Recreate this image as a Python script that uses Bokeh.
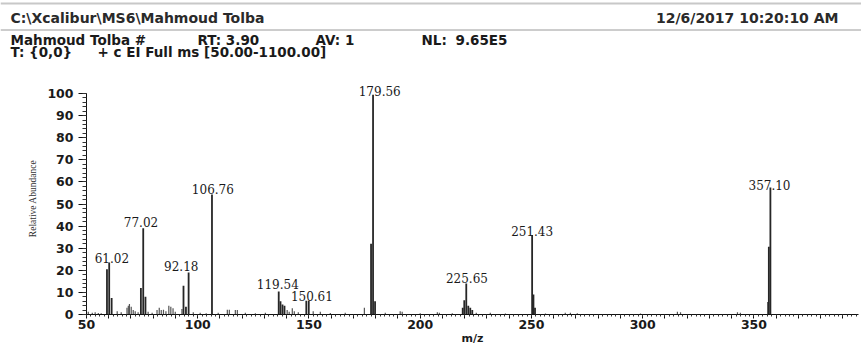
from bokeh.plotting import figure
from bokeh.layouts import column
from bokeh.models import FixedTicker, ColumnDataSource, Range1d, Span
from bokeh.embed import file_html
from bokeh.resources import INLINE
from bokeh.core.properties import value

# ---- header texts ----
header_path = "C:\\Xcalibur\\MS6\\Mahmoud Tolba"
header_date = "12/6/2017 10:20:10 AM"
row2_parts = ["Mahmoud Tolba #", "RT: 3.90", "AV: 1", "NL:", "9.65E5"]
row3_parts = ["T: {0,0}", "+ c EI Full ms [50.00-1100.00]"]

# ---- main peaks (m/z position as drawn, relative abundance) ----
peak_mz = [59.2, 60.2, 61.3, 74.45, 75.5, 76.5, 93.6, 94.7, 95.9, 106.4,
           136.4, 137.2, 138.1, 139.0, 148.8, 149.9,
           177.9, 178.8, 179.7, 219.1, 219.8, 220.7, 221.6, 222.5, 223.4,
           250.3, 250.9, 251.6, 356.4, 356.7, 357.4]
peak_int = [20.5, 23.5, 7.5, 12.0, 39.0, 8.0, 13.0, 3.5, 19.0, 54.3,
            10.4, 6.0, 4.5, 4.0, 6.2, 6.2,
            32.0, 99.5, 6.0, 3.0, 6.5, 14.0, 4.0, 3.0, 2.0,
            36.0, 9.0, 3.0, 5.7, 30.7, 57.5]

# ---- small / noise peaks ----
noise_mz = [50.8, 52.6, 53.9, 55.3, 56.6, 63.8, 65.6, 68.2, 68.8, 69.3, 70.1, 71.0,
            71.9, 73.2, 77.7, 79.5, 81.7, 82.7, 83.6, 84.6, 85.7, 87.0, 87.9, 88.9,
            89.9, 92.9, 98.0, 101.1, 103.8, 109.2, 113.3, 114.2, 116.9, 117.8, 121.4,
            125.9, 130.4, 140.2, 141.1, 142.5, 143.4, 145.2, 151.9, 155.1, 159.6,
            166.3, 174.9, 184.3, 191.0, 191.9, 200.0, 207.7, 208.6, 214.4, 225.2,
            231.5, 238.3, 256.3, 265.2, 267.5, 270.6, 299.0, 315.6, 317.0, 342.6, 343.9]
noise_int = [1.2, 0.8, 1.0, 0.7, 0.6, 1.5, 1.0, 3.0, 4.0, 4.8, 3.5, 2.0,
             1.5, 1.0, 1.2, 0.8, 2.0, 3.0, 2.0, 2.2, 1.5, 4.0, 3.5, 2.8,
             1.2, 2.5, 1.0, 0.8, 0.6, 0.8, 2.2, 2.2, 2.0, 2.0, 0.8,
             0.6, 0.8, 2.0, 1.2, 2.8, 1.5, 1.0, 1.5, 1.2, 0.7,
             0.8, 3.0, 0.8, 1.5, 1.2, 0.6, 1.0, 0.8, 0.6, 0.8,
             0.8, 0.5, 0.5, 0.8, 0.8, 0.6, 0.4, 1.2, 1.0, 1.0, 0.8]

# ---- peak annotations ----
label_text = ["61.02", "77.02", "92.18", "106.76", "119.54", "150.61",
              "179.56", "225.65", "251.43", "357.10"]
label_mz = [61.4, 74.5, 92.6, 106.8, 136.0, 151.3, 181.8, 221.0, 250.3, 357.0]
label_int = [25.6, 41.8, 22.0, 57.0, 13.6, 8.5, 101.0, 16.3, 37.7, 58.6]

# ---- axes ----
y_ticks = [0, 10, 20, 30, 40, 50, 60, 70, 80, 90, 100]
x_label_ticks = [50, 100, 150, 200, 250, 300, 350]

W = 861
H1, H2 = 70, 277

# ---------- header panel ----------
h = figure(width=W, height=H1, output_backend="svg", toolbar_location=None,
           x_range=Range1d(0, W), y_range=Range1d(H1, 0),
           min_border=0, x_axis_type=None, y_axis_type=None)
h.frame_align = False
h.outline_line_color = None
h.grid.visible = False
h.add_layout(Span(location=3, dimension="width", line_color="#c8c8c8", line_width=2))
h.add_layout(Span(location=29.5, dimension="width", line_color="#9a9a9a", line_width=1))

h.text(x=[10, 838], y=[17, 17], text=[header_path, header_date],
       text_align=["left", "right"], text_baseline="middle",
       text_font=value("DejaVu Sans"), text_font_style="bold",
       text_font_size="14px", text_color="#2a2a2a")
r_text = row2_parts + row3_parts
r_x = [10, 197, 315, 421, 455, 10, 97]
r_y = [39, 39, 39, 39, 39, 51, 51]
h.text(x=r_x, y=r_y, text=r_text, text_align="left", text_baseline="middle",
       text_font=value("DejaVu Sans"), text_font_style="bold",
       text_font_size="13.5px", text_color="#1a1a1a")

# ---------- spectrum ----------
p = figure(width=W, height=H2, output_backend="svg", toolbar_location=None,
           x_range=Range1d(50, 397), y_range=Range1d(0, 105),
           min_border_left=86, min_border_right=3, min_border_top=12,
           min_border_bottom=27)
p.frame_align = False
p.outline_line_color = None
p.grid.visible = False

p.segment(x0=noise_mz, y0=[0] * len(noise_mz), x1=noise_mz, y1=noise_int,
          line_width=1.2, line_color="#555555")
p.segment(x0=peak_mz, y0=[0] * len(peak_mz), x1=peak_mz, y1=peak_int,
          line_width=1.8, line_color="#262626")

src = ColumnDataSource(dict(x=label_mz, y=label_int, t=label_text))
p.text(x="x", y="y", text="t", source=src, text_align="center",
       text_baseline="middle", text_font=value("DejaVu Serif"),
       text_font_size="12px", text_color="#1a1a1a")

# x axis
xa = p.xaxis[0]
major_x = list(range(50, 400, 10))
xa.ticker = FixedTicker(ticks=major_x, minor_ticks=list(range(50, 398, 2)))
xa.major_label_overrides = {v: ("" if v not in x_label_ticks else str(v)) for v in major_x}
xa.major_tick_out = 4
xa.major_tick_in = 0
xa.minor_tick_out = 2
xa.minor_tick_in = 0
xa.major_label_standoff = 1
xa.major_label_text_font = "DejaVu Sans"
xa.major_label_text_font_style = "bold"
xa.major_label_text_font_size = "12.5px"
xa.major_label_text_color = "#1a1a1a"
xa.axis_line_color = "#111111"
xa.major_tick_line_color = "#111111"
xa.minor_tick_line_color = "#333333"
xa.axis_label = "m/z"
xa.axis_label_standoff = 0
xa.axis_label_text_font = "DejaVu Sans"
xa.axis_label_text_font_style = "bold"
xa.axis_label_text_font_size = "11px"
xa.axis_label_text_color = "#1a1a1a"

# y axis
ya = p.yaxis[0]
ya.ticker = FixedTicker(ticks=y_ticks, minor_ticks=list(range(0, 101, 2)))
ya.bounds = (0, 100)
ya.major_tick_out = 8
ya.major_tick_in = 0
ya.minor_tick_out = 4
ya.minor_tick_in = 0
ya.major_label_standoff = 5
ya.major_label_text_font = "DejaVu Sans"
ya.major_label_text_font_style = "bold"
ya.major_label_text_font_size = "12.5px"
ya.major_label_text_color = "#1a1a1a"
ya.axis_line_color = "#111111"
ya.major_tick_line_color = "#111111"
ya.minor_tick_line_color = "#333333"
ya.axis_label = "Relative Abundance"
ya.axis_label_text_font = "Liberation Serif"
ya.axis_label_text_font_style = "normal"
ya.axis_label_text_font_size = "9.5px"
ya.axis_label_text_color = "#333333"
ya.axis_label_standoff = 6

open("out.html", "w").write(file_html(column(h, p), INLINE))
